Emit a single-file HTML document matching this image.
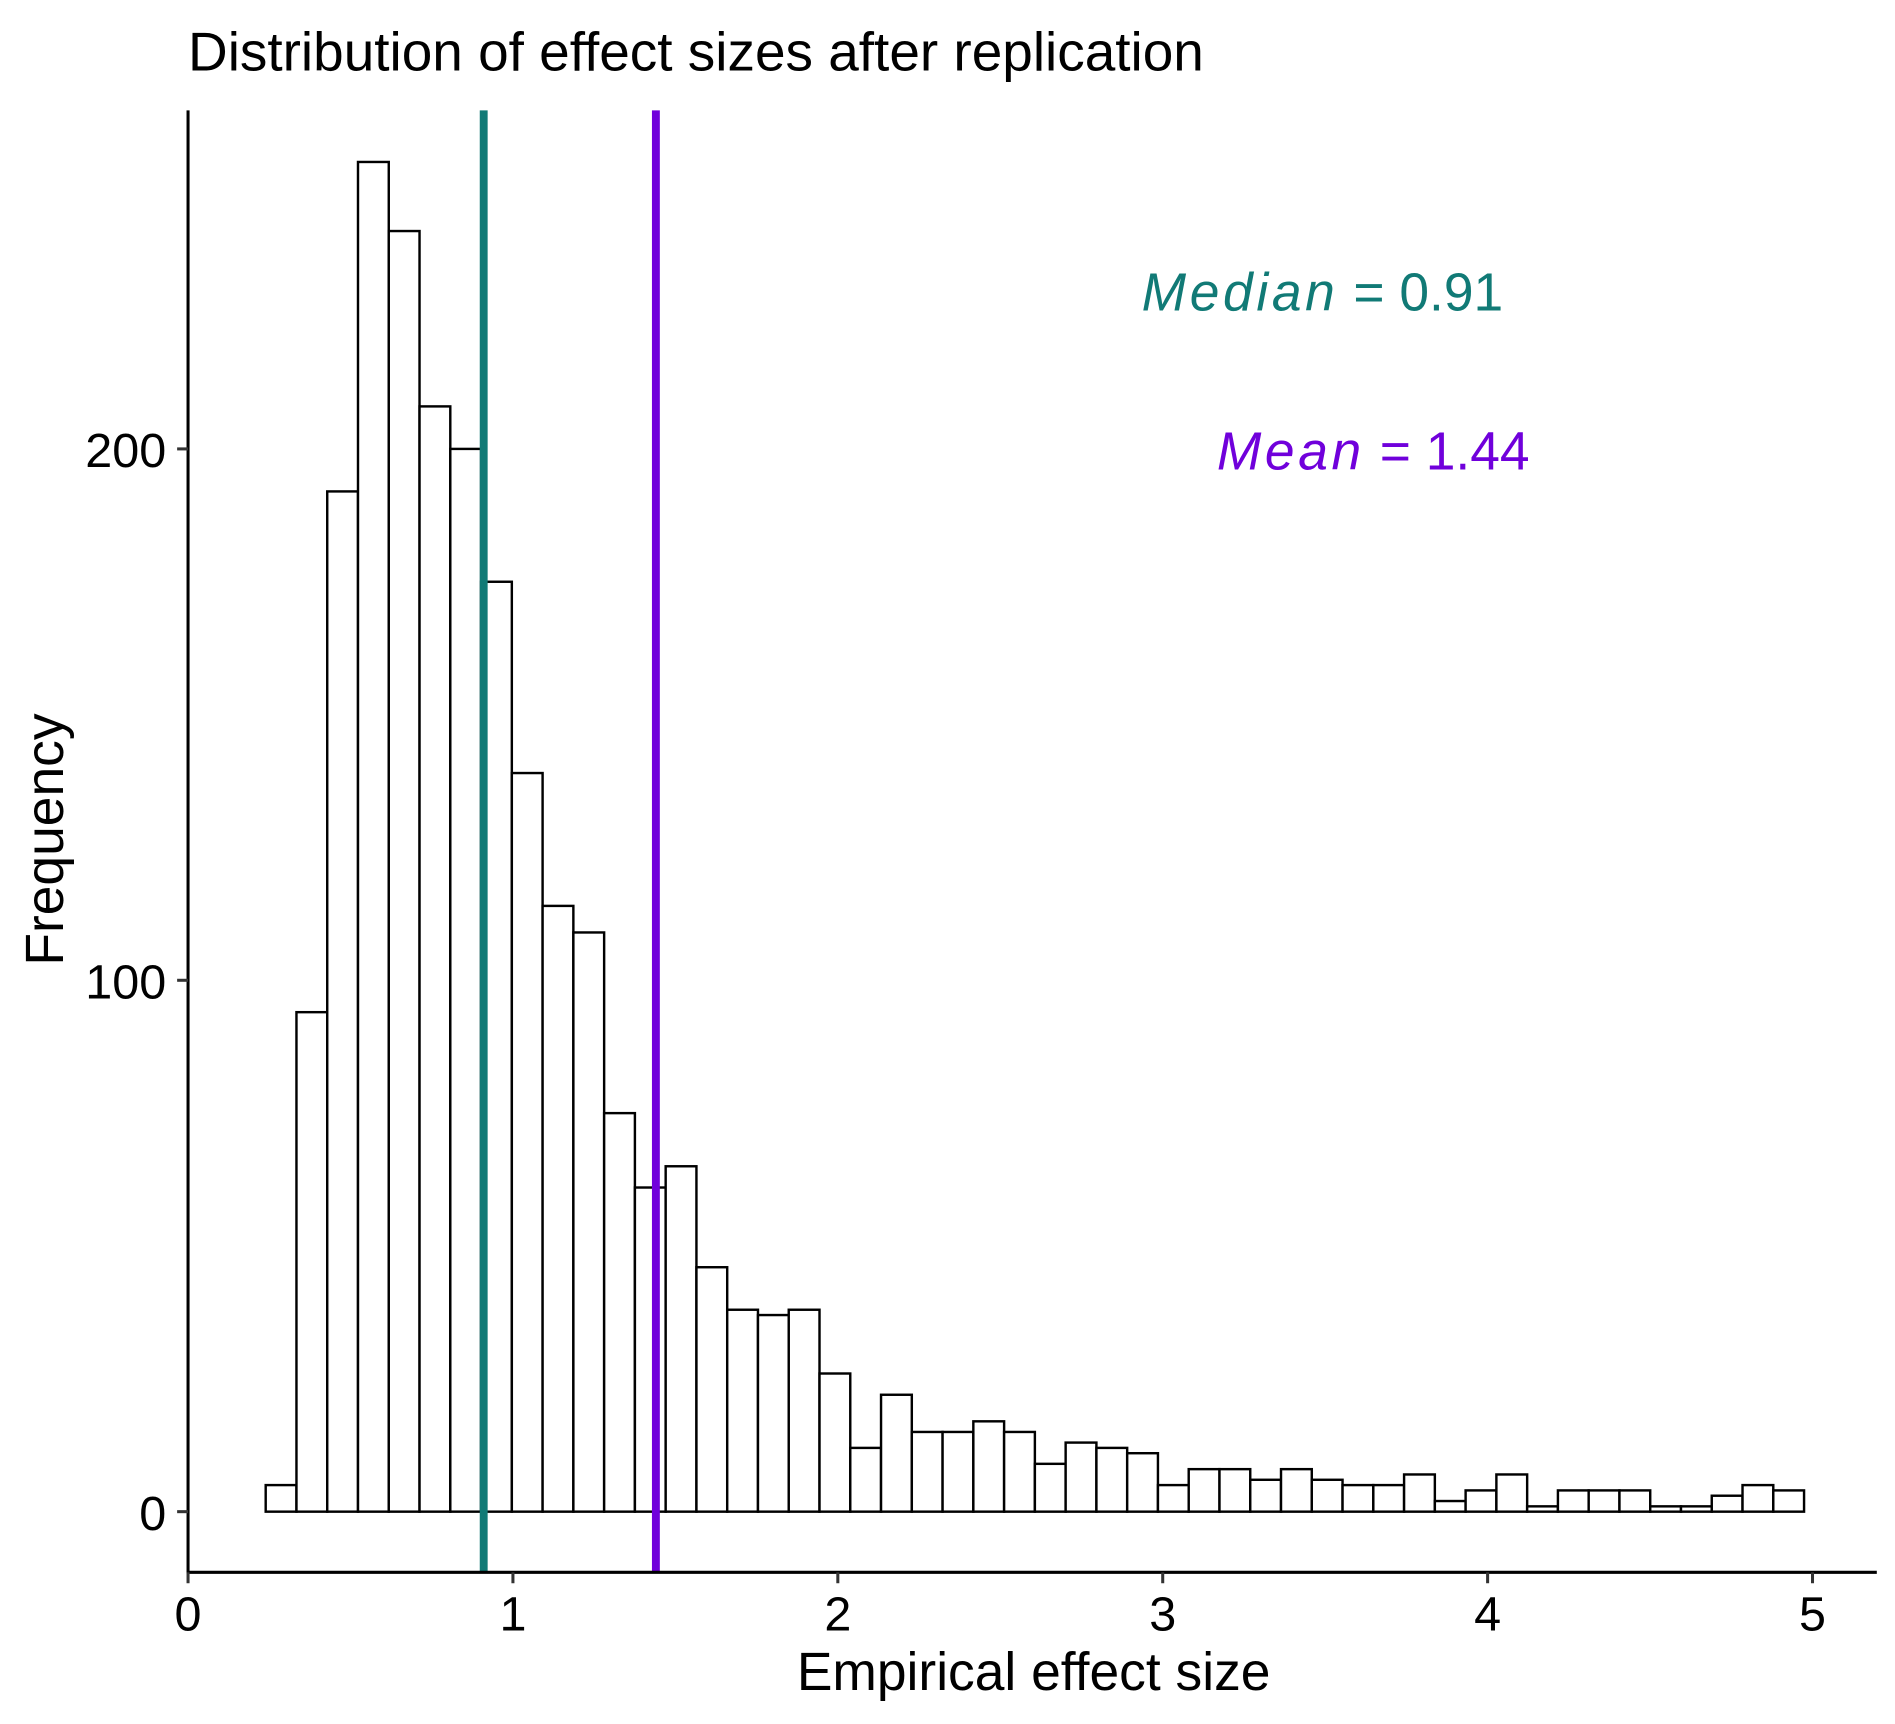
<!DOCTYPE html>
<html><head><meta charset="utf-8"><style>
html,body{margin:0;padding:0;background:#fff}
svg{display:block;font-family:"Liberation Sans",Arial,sans-serif}
</style></head><body>
<svg id="chart" width="1895" height="1724" viewBox="0 0 1562 1421" xmlns="http://www.w3.org/2000/svg">
<rect width="1562" height="1421" fill="#fff"/>
<text x="155" y="58" font-size="45.3" fill="#000">Distribution of effect sizes after replication</text>
<g id="bars"></g>
<g id="lines"></g>
<g id="axes"></g>
<text x="941" y="256" font-size="44" fill="#117a76"><tspan font-style="italic" letter-spacing="3">Median</tspan> = 0.91</text>
<text x="1003" y="387" font-size="44" fill="#7000db"><tspan font-style="italic" letter-spacing="3">Mean</tspan> = 1.44</text>
<text x="852" y="1393" font-size="44" text-anchor="middle" fill="#000">Empirical effect size</text>
<text transform="translate(52,692) rotate(-90)" font-size="44" text-anchor="middle" fill="#000">Frequency</text>
</svg>
<script>
const counts = [5,94,192,254,241,208,200,175,139,114,109,75,61,65,46,38,37,38,26,12,22,15,15,17,15,9,13,12,11,5,8,8,6,8,6,5,5,7,2,4,7,1,4,4,4,1,1,3,5,4];
const binStart = 0.239;
const binWidth = 0.0947;
const xTicks = [0,1,2,3,4,5];
const yTicks = [0,100,200];
const medianValue = 0.91;
const meanValue = 1.44;

const NS = 'http://www.w3.org/2000/svg';
const xs = v => 155 + v * 267.8;
const ys = v => 1246 - v * 4.38;
function mk(tag, attrs, parent){const e=document.createElementNS(NS,tag);for(const k in attrs)e.setAttribute(k,attrs[k]);parent.appendChild(e);return e;}

const bars = document.getElementById('bars');
counts.forEach((c,i)=>{
  const x0 = xs(binStart + i*binWidth), x1 = xs(binStart + (i+1)*binWidth);
  const r = mk('rect',{x:x0,y:ys(c),width:x1-x0,height:ys(0)-ys(c),fill:'#fff',stroke:'#000','stroke-width':2},bars);
  
  
});

const lines = document.getElementById('lines');
const ml = mk('line',{x1:xs(medianValue),x2:xs(medianValue),y1:91,y2:1296,stroke:'#117a76','stroke-width':6.5},lines);


const mn = mk('line',{x1:xs(meanValue),x2:xs(meanValue),y1:91,y2:1296,stroke:'#7000db','stroke-width':6.5},lines);



const axes = document.getElementById('axes');
const ya = mk('line',{x1:155,x2:155,y1:91,y2:1297,stroke:'#000','stroke-width':2.5},axes);


const xa = mk('line',{x1:154,x2:1547,y1:1296,y2:1296,stroke:'#000','stroke-width':2.5},axes);


xTicks.forEach(t=>{
  const tk = mk('line',{x1:xs(t),x2:xs(t),y1:1296,y2:1305,stroke:'#333','stroke-width':2.5},axes);
  
  
  const lb = mk('text',{x:xs(t),y:1344,'font-size':40,'text-anchor':'middle',fill:'#000'},axes);
  lb.textContent = t;
  
  
});
yTicks.forEach(t=>{
  const tk = mk('line',{x1:146,x2:155,y1:ys(t),y2:ys(t),stroke:'#333','stroke-width':2.5},axes);
  
  
  const lb = mk('text',{x:137,y:ys(t)+15,'font-size':40,'text-anchor':'end',fill:'#000'},axes);
  lb.textContent = t;
  
  
});
</script>
</body></html>
